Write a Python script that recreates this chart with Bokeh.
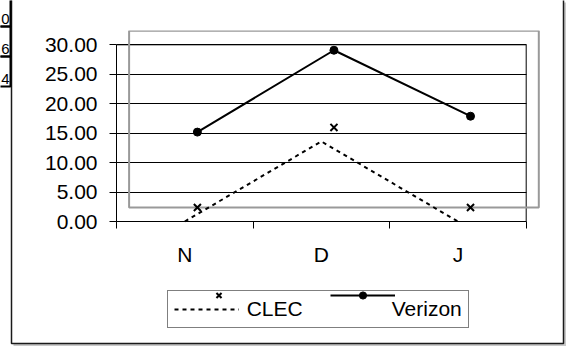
from bokeh.plotting import figure
from bokeh.layouts import column
from bokeh.models import (Range1d, LinearAxis, FixedTicker, NumeralTickFormatter,
                          BoxAnnotation, Label, Legend, LegendItem, Grid)
from bokeh.embed import file_html
from bokeh.resources import INLINE

# ---- data ----
categories = ["N", "D", "J"]
clec = [0.0, 13.6, 0.0]
verizon = [12.8, 26.7, 15.5]
y_ticks = [0, 5, 10, 15, 20, 25, 30]
series_names = ["CLEC", "Verizon"]
table_tail = ["0", "6", "4"]

FONT = "Liberation Sans"
W, H = 571, 349
LEFT, TOP, RIGHT_B = 116, 30, 30
AXIS_Y = 221                      # pixel row of the x axis
BOTTOM_B = H - AXIS_Y
frame_w = W - LEFT - RIGHT_B
frame_h = H - TOP - BOTTOM_B
plot_w = 409.7   # pixel width of the category span
plot_h = 176.7   # pixel height of the value span
n = len(categories)
y_max = y_ticks[-1]
kx = plot_w / n                  # px per category
ky = plot_h / y_max              # px per unit
x_end = frame_w / kx
y_end = frame_h / ky
shift_x = 12.6 / kx              # offset of the plot-area layer
shift_y = 14.0 / ky

# ================= main figure: axes, grid, plot-area frames =================
p = figure(width=W, height=H, output_backend="svg", toolbar_location=None,
           x_range=Range1d(0, x_end), y_range=Range1d(0, y_end),
           min_border_left=LEFT, min_border_top=TOP,
           min_border_right=RIGHT_B, min_border_bottom=BOTTOM_B,
           x_axis_type=None, y_axis_type=None)
p.frame_align = False
p.outline_line_color = None
p.background_fill_color = "white"
p.border_fill_color = "white"
p.extra_x_ranges = {"s": Range1d(-shift_x, x_end - shift_x)}
p.extra_y_ranges = {"s": Range1d(-shift_y, y_end - shift_y)}

yaxis = LinearAxis(ticker=FixedTicker(ticks=y_ticks),
                   formatter=NumeralTickFormatter(format="0.00"),
                   bounds=(0, y_max))
yaxis.major_tick_out = 7
yaxis.major_tick_in = 0
yaxis.minor_tick_out = 0
yaxis.minor_tick_in = 0
yaxis.major_label_standoff = 12
yaxis.major_label_text_font = FONT
yaxis.major_label_text_font_size = "21px"
yaxis.major_label_text_color = "black"
yaxis.axis_line_color = "black"
yaxis.major_tick_line_color = "black"
p.add_layout(yaxis, "left")

centers = [i + 0.5 for i in range(n)]
xaxis = LinearAxis(ticker=FixedTicker(ticks=centers, minor_ticks=list(range(n + 1))),
                   bounds=(0, n))
xaxis.major_label_overrides = {c: lab for c, lab in zip(centers, categories)}
xaxis.major_tick_out = 0
xaxis.major_tick_in = 0
xaxis.minor_tick_out = 7
xaxis.minor_tick_in = 0
xaxis.minor_tick_line_color = "black"
xaxis.major_label_standoff = 14
xaxis.major_label_text_font = FONT
xaxis.major_label_text_font_size = "21px"
xaxis.major_label_text_color = "black"
xaxis.axis_line_color = "black"
p.add_layout(xaxis, "below")

grid = Grid(dimension=1, ticker=FixedTicker(ticks=y_ticks[1:]), cross_bounds=(0, n))
grid.grid_line_color = "black"
grid.grid_line_width = 1
p.add_layout(grid)

p.add_layout(BoxAnnotation(left=0, right=n, bottom=0, top=y_max,
                           fill_color=None, line_color="black", line_alpha=1,
                           line_width=1))
p.add_layout(BoxAnnotation(left=0, right=n, bottom=0, top=y_max,
                           x_range_name="s", y_range_name="s",
                           fill_color=None, line_color="#999999", line_alpha=1,
                           line_width=2))

# ================= overlay figure: series, legend, chart border, table =================
o = figure(width=W, height=H, output_backend="svg", toolbar_location=None,
           x_range=Range1d(-LEFT / kx, (W - LEFT) / kx),
           y_range=Range1d(-(H - AXIS_Y) / ky, AXIS_Y / ky),
           min_border_left=0, min_border_right=0, min_border_top=0, min_border_bottom=0,
           x_axis_type=None, y_axis_type=None)
o.frame_align = False
o.outline_line_color = None
o.background_fill_color = None
o.border_fill_color = None
o.margin = (-H, 0, 0, 0)
o.extra_x_ranges = {"s": Range1d(-LEFT / kx - shift_x, (W - LEFT) / kx - shift_x),
                    "px": Range1d(0, W)}
o.extra_y_ranges = {"s": Range1d(-(H - AXIS_Y) / ky - shift_y, AXIS_Y / ky - shift_y),
                    "px": Range1d(H, 0)}

clec_style = dict(line_color="black", line_width=2, line_dash="4 4")
clec_mark = dict(marker="x", size=10, line_width=2, line_color="black")
vz_style = dict(line_color="black", line_width=2)
vz_mark = dict(marker="circle", size=8, fill_color="black", line_color="black")

clec_line = o.line(centers, clec, **clec_style)
clec_pts = o.scatter(centers, clec, x_range_name="s", y_range_name="s", **clec_mark)
vz_line = o.line(centers, verizon, x_range_name="s", y_range_name="s", **vz_style)
vz_pts = o.scatter(centers, verizon, x_range_name="s", y_range_name="s", **vz_mark)
vz_blank = o.line(centers, verizon, line_alpha=0, x_range_name="s", y_range_name="s")

PX = dict(x_range_name="px", y_range_name="px")

# chart area border + shadow
o.add_layout(BoxAnnotation(left=13, right=565.5, top=343.5, bottom=345.5,
                           fill_color="#c8c8c8", fill_alpha=1, line_color=None, **PX))
o.add_layout(BoxAnnotation(left=563.5, right=565.5, top=2, bottom=345.5,
                           fill_color="#c8c8c8", fill_alpha=1, line_color=None, **PX))
o.add_layout(BoxAnnotation(left=11, right=563, top=-10, bottom=343,
                           fill_color=None, line_color="#1a1a1a", line_alpha=1,
                           line_width=1.5, **PX))

# table fragment at top-left
for i, t in enumerate(table_tail):
    bottom = 26 + 30 * i
    o.add_layout(BoxAnnotation(left=-20, right=10, top=bottom - 30, bottom=bottom,
                               fill_color=None, line_color="black", line_alpha=1,
                               line_width=2, **PX))
    o.add_layout(Label(x=9, y=bottom - 3, text=t,
                       text_align="right", text_baseline="bottom",
                       text_font=FONT, text_font_size="15px", text_color="black", **PX))

leg_kw = dict(orientation="horizontal", padding=6, glyph_width=65,
              glyph_height=18, label_standoff=8, label_text_font=FONT,
              label_text_font_size="21px", margin=0, border_line_color="black",
              border_line_width=1)
legA = Legend(items=[LegendItem(label=series_names[0], renderers=[clec_line]),
                     LegendItem(label=series_names[1], renderers=[vz_blank])],
              location=(166.7, H - 327.7), spacing=16,
              background_fill_color="white", background_fill_alpha=1,
              label_text_color="black", **leg_kw)
legB = Legend(items=[LegendItem(label=series_names[0], renderers=[clec_pts]),
                     LegendItem(label=series_names[1], renderers=[vz_line, vz_pts])],
              location=(179.5, H - 327.7 + 15), spacing=15, border_line_alpha=0,
              background_fill_alpha=0, label_text_alpha=0, **leg_kw)
o.add_layout(legA)
o.add_layout(legB)

layout = column(p, o)
open("out.html", "w").write(file_html(layout, INLINE))
